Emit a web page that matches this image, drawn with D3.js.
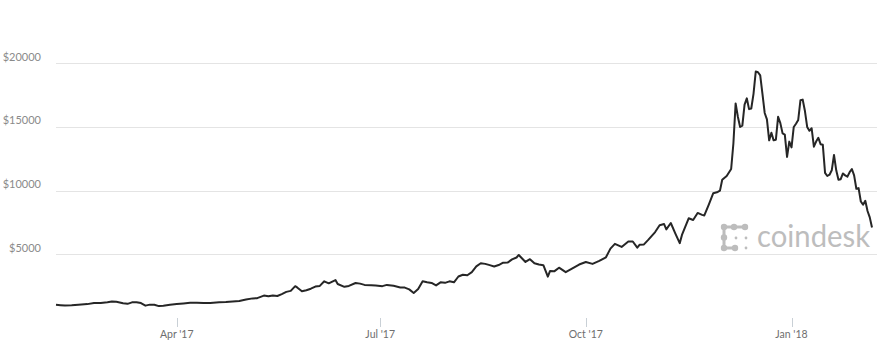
<!DOCTYPE html>
<html>
<head>
<meta charset="utf-8">
<script src="https://cdn.jsdelivr.net/npm/d3@7"></script>
<style>
  html, body { margin: 0; padding: 0; background: #fff; }
  svg { display: block; }
</style>
</head>
<body>
<svg id="chart" width="877" height="348"></svg>
<script>
// ---- data ----
const dates = [
"2017-02-06","2017-02-08","2017-02-10","2017-02-13","2017-02-16","2017-02-20","2017-02-23","2017-02-26",
"2017-03-01","2017-03-03","2017-03-05","2017-03-08","2017-03-10","2017-03-12","2017-03-14","2017-03-16",
"2017-03-18","2017-03-20","2017-03-22","2017-03-24","2017-03-26","2017-03-29","2017-04-01","2017-04-04",
"2017-04-07","2017-04-10","2017-04-13","2017-04-16","2017-04-20","2017-04-23","2017-04-26","2017-04-29",
"2017-05-02","2017-05-05","2017-05-07","2017-05-10","2017-05-12","2017-05-14","2017-05-16","2017-05-18",
"2017-05-20","2017-05-22","2017-05-24","2017-05-25","2017-05-27","2017-05-29","2017-05-31","2017-06-02",
"2017-06-04","2017-06-06","2017-06-08","2017-06-11","2017-06-12","2017-06-15","2017-06-17","2017-06-20",
"2017-06-22","2017-06-24","2017-06-27","2017-06-29","2017-07-02","2017-07-04","2017-07-07","2017-07-10",
"2017-07-12","2017-07-14","2017-07-16","2017-07-18","2017-07-20","2017-07-22","2017-07-24","2017-07-26",
"2017-07-28","2017-07-30","2017-08-01","2017-08-03","2017-08-05","2017-08-07","2017-08-09","2017-08-11",
"2017-08-13","2017-08-15","2017-08-17","2017-08-19","2017-08-21","2017-08-23","2017-08-25","2017-08-27",
"2017-08-29","2017-08-31","2017-09-01","2017-09-04","2017-09-06","2017-09-08","2017-09-10","2017-09-12",
"2017-09-14","2017-09-15","2017-09-17","2017-09-19","2017-09-22","2017-09-25","2017-09-28","2017-10-01",
"2017-10-04","2017-10-07","2017-10-10","2017-10-12","2017-10-14","2017-10-17","2017-10-20","2017-10-22",
"2017-10-24","2017-10-25","2017-10-27","2017-10-29","2017-11-01","2017-11-03","2017-11-05","2017-11-06",
"2017-11-08","2017-11-10","2017-11-12","2017-11-13","2017-11-16","2017-11-18","2017-11-20","2017-11-22",
"2017-11-23","2017-11-25","2017-11-27","2017-11-29","2017-11-30","2017-12-01","2017-12-03","2017-12-05",
"2017-12-06","2017-12-07","2017-12-08","2017-12-09","2017-12-10","2017-12-11","2017-12-12","2017-12-13",
"2017-12-14","2017-12-15","2017-12-16","2017-12-17","2017-12-18","2017-12-19","2017-12-20","2017-12-21",
"2017-12-22","2017-12-23","2017-12-24","2017-12-25","2017-12-26","2017-12-27","2017-12-28","2017-12-29",
"2017-12-30","2017-12-31","2018-01-01","2018-01-02","2018-01-03","2018-01-04","2018-01-05","2018-01-06",
"2018-01-07","2018-01-08","2018-01-09","2018-01-10","2018-01-11","2018-01-12","2018-01-13","2018-01-14",
"2018-01-15","2018-01-16","2018-01-17","2018-01-18","2018-01-19","2018-01-20","2018-01-21","2018-01-22",
"2018-01-23","2018-01-24","2018-01-25","2018-01-26","2018-01-27","2018-01-28","2018-01-29","2018-01-30",
"2018-01-31","2018-02-01","2018-02-02","2018-02-03","2018-02-04","2018-02-05","2018-02-06"
];
const prices = [
1045,1010,980,995,1035,1090,1170,1170,
1230,1290,1270,1160,1110,1230,1240,1170,
970,1050,1040,935,970,1040,1090,1140,
1190,1200,1170,1180,1240,1250,1300,1340,
1450,1540,1560,1760,1700,1770,1730,1880,
2050,2130,2500,2380,2100,2180,2300,2470,
2520,2880,2720,2980,2670,2450,2520,2750,
2700,2600,2580,2560,2500,2600,2530,2400,
2390,2250,1970,2280,2880,2810,2750,2560,
2800,2760,2880,2800,3260,3400,3360,3600,
4050,4300,4250,4150,4040,4160,4340,4350,
4600,4750,4950,4400,4620,4300,4200,4150,
3250,3700,3680,3950,3600,3900,4200,4400,
4250,4480,4770,5450,5820,5580,6010,6010,
5520,5750,5780,6150,6750,7280,7380,6960,
7460,6650,5880,6520,7830,7700,8250,8100,
8050,8900,9800,9900,10000,10850,11150,11700,
13700,16850,15800,15000,15100,16750,17250,16400,
16450,17600,19350,19300,19050,17600,16100,15600,
13950,14550,13950,14000,15800,15300,14500,14400,
12650,13850,13400,15000,15250,15550,17100,17150,
16250,15000,14700,14900,13450,13850,14150,13650,
13600,11400,11150,11250,11600,12800,11600,10850,
10900,11350,11200,11100,11450,11700,11200,10150,
10200,9150,8900,9200,8400,7900,7100
];
const yTicks = [5000, 10000, 15000, 20000];
const xTickDates = ["2017-04-01","2017-07-01","2017-10-01","2018-01-01"];
const xTickLabels = ["Apr '17","Jul '17","Oct '17","Jan '18"];

// ---- chart ----
const parse = d3.timeParse("%Y-%m-%d");
const data = dates.map((d, i) => ({ date: parse(d), value: prices[i] }));

const svg = d3.select("#chart");
const x = d3.scaleTime()
  .domain([parse("2017-02-06"), parse("2018-02-06")])
  .range([56, 872]);
const y = d3.scaleLinear().domain([0, 20000]).range([318, 63.3]);

// gridlines
svg.append("g").selectAll("line").data(yTicks).join("line")
  .attr("x1", 56).attr("x2", 877)
  .attr("y1", d => Math.round(y(d)) + 0.5).attr("y2", d => Math.round(y(d)) + 0.5)
  .attr("stroke", "#e4e4e4").attr("stroke-width", 1);

// y labels
svg.append("g").selectAll("text").data(yTicks).join("text")
  .attr("x", 41).attr("y", d => y(d) - 2.5)
  .attr("text-anchor", "end")
  .attr("font-family", "Lato, 'Open Sans', sans-serif")
  .attr("font-size", 11)
  .attr("fill", "#8a8a8a")
  .text(d => "$" + d);

// x axis ticks
const xa = svg.append("g");
xa.selectAll("line").data(xTickDates).join("line")
  .attr("x1", d => Math.round(x(parse(d))) + 0.5).attr("x2", d => Math.round(x(parse(d))) + 0.5)
  .attr("y1", 318).attr("y2", 327)
  .attr("stroke", "#c9d0d6").attr("stroke-width", 1);
xa.selectAll("text").data(xTickDates).join("text")
  .attr("x", d => x(parse(d)))
  .attr("y", 338)
  .attr("text-anchor", "middle")
  .attr("font-family", "Lato, 'Open Sans', sans-serif")
  .attr("font-size", 10.5)
  .attr("fill", "#6e6e6e")
  .text((d, i) => xTickLabels[i]);

// watermark
const wm = svg.append("g").attr("fill", "#bdbdbd").attr("stroke", "#bdbdbd");
const big = [[724,227],[734,227],[745,227],[724,237.5],[724,248],[735,248]];
wm.append("path")
  .attr("d", "M745,227 L724,227 L724,248 L735,248")
  .attr("fill", "none").attr("stroke-width", 3);
wm.selectAll("circle.b").data(big).join("circle").attr("class","b")
  .attr("cx", d => d[0]).attr("cy", d => d[1]).attr("r", 3.2).attr("stroke", "none");
wm.selectAll("circle.s").data([[736,238],[746,238],[746,248]]).join("circle").attr("class","s")
  .attr("cx", d => d[0]).attr("cy", d => d[1]).attr("r", 1.4).attr("stroke", "none");
wm.append("text")
  .attr("x", 757).attr("y", 247)
  .attr("font-family", "Lato, 'Open Sans', sans-serif")
  .attr("font-size", 31)
  .attr("stroke", "none")
  .attr("textLength", 113)
  .attr("lengthAdjust", "spacingAndGlyphs")
  .text("coindesk");

// price line
const line = d3.line().x(d => x(d.date)).y(d => y(d.value)).curve(d3.curveLinear);
svg.append("path")
  .datum(data)
  .attr("d", line)
  .attr("fill", "none")
  .attr("stroke", "#262626")
  .attr("stroke-width", 2)
  .attr("stroke-linejoin", "round");
</script>
</body>
</html>
